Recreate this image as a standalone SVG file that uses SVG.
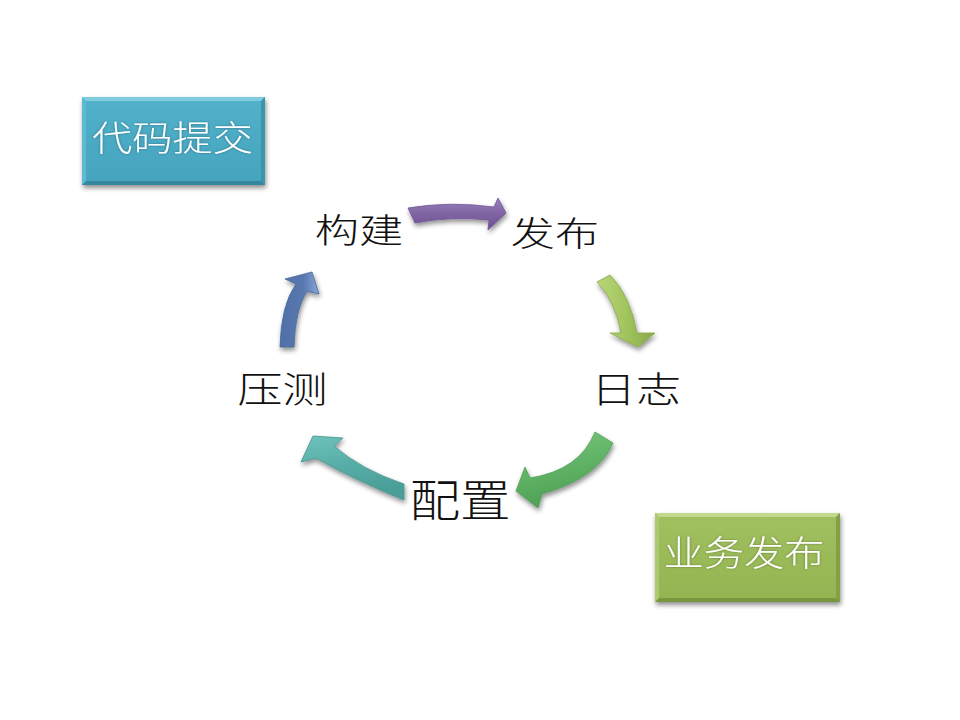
<svg xmlns="http://www.w3.org/2000/svg" width="960" height="720" viewBox="0 0 960 720">
<defs>
<style>
.lbl{font-family:"Noto Sans CJK SC","Noto Sans CJK JP",sans-serif;font-weight:300;fill:#111;text-anchor:middle}
.btx{font-family:"Noto Sans CJK SC","Noto Sans CJK JP",sans-serif;font-weight:300;fill:#ffffff;text-anchor:middle}
.arr{stroke-linejoin:round;stroke-width:0.8}
</style>
<filter id="sh" x="-20%" y="-20%" width="140%" height="150%">
<feGaussianBlur in="SourceAlpha" stdDeviation="2.5"/>
<feOffset dx="1" dy="3" result="b"/>
<feComponentTransfer><feFuncA type="linear" slope="0.45"/></feComponentTransfer>
<feMerge><feMergeNode/><feMergeNode in="SourceGraphic"/></feMerge>
</filter>
<filter id="glow" x="-10%" y="-30%" width="120%" height="160%">
<feGaussianBlur in="SourceAlpha" stdDeviation="1.2"/>
<feComponentTransfer><feFuncA type="linear" slope="0.35"/></feComponentTransfer>
<feMerge><feMergeNode/><feMergeNode in="SourceGraphic"/></feMerge>
</filter>
<linearGradient id="gBox1" x1="0" y1="0" x2="0" y2="1">
<stop offset="0" stop-color="#52b1cb"/><stop offset="1" stop-color="#45a3bd"/>
</linearGradient>
<linearGradient id="gBox2" x1="0" y1="0" x2="0" y2="1">
<stop offset="0" stop-color="#a1c160"/><stop offset="1" stop-color="#94b452"/>
</linearGradient>
<linearGradient id="gPur" x1="0" y1="0" x2="0" y2="1">
<stop offset="0" stop-color="#9a80bd"/><stop offset="0.5" stop-color="#8064a2"/><stop offset="1" stop-color="#6a5090"/>
</linearGradient>
<linearGradient id="gYel" x1="0" y1="0" x2="1" y2="0">
<stop offset="0" stop-color="#b8d779"/><stop offset="0.5" stop-color="#a2c45e"/><stop offset="1" stop-color="#87a846"/>
</linearGradient>
<linearGradient id="gGrn" x1="0" y1="0" x2="0.3" y2="1">
<stop offset="0" stop-color="#7cc77f"/><stop offset="0.5" stop-color="#62b567"/><stop offset="1" stop-color="#4e9f55"/>
</linearGradient>
<linearGradient id="gTeal" x1="0" y1="0" x2="0.3" y2="1">
<stop offset="0" stop-color="#6fc2bb"/><stop offset="0.5" stop-color="#58aea8"/><stop offset="1" stop-color="#4a9e98"/>
</linearGradient>
<linearGradient id="gBlue" x1="0" y1="0" x2="1" y2="0">
<stop offset="0" stop-color="#4f70a6"/><stop offset="0.6" stop-color="#5878b0"/><stop offset="1" stop-color="#8aa6d6"/>
</linearGradient>
</defs>
<rect width="960" height="720" fill="#ffffff"/>

<g id="node-code-commit">
<rect x="82" y="97" width="183" height="88" fill="url(#gBox1)" filter="url(#sh)"/>
<path d="M82,97 H265 L261,101 H86 Z" fill="#7fcbe0"/>
<path d="M265,97 V185 L261,181 V101 Z" fill="#3a95ad"/>
<path d="M82,185 H265 L261,181 H86 Z" fill="#34879e"/>
<path d="M82,97 V185 L86,181 V101 Z" fill="#5dbad3"/>
<text class="btx" filter="url(#glow)" transform="translate(172.5,151) scale(1.15,1)" font-size="35">代码提交</text>
</g>

<g id="node-business-release">
<rect x="655" y="513" width="185" height="89" fill="url(#gBox2)" filter="url(#sh)"/>
<path d="M655,513 H840 L836,517 H659 Z" fill="#c1da8c"/>
<path d="M840,513 V602 L836,598 V517 Z" fill="#83a045"/>
<path d="M655,602 H840 L836,598 H659 Z" fill="#7a963f"/>
<path d="M655,513 V602 L659,598 V517 Z" fill="#abc96e"/>
<text class="btx" filter="url(#glow)" transform="translate(744,566) scale(1.15,1)" font-size="35">业务发布</text>
</g>

<g id="node-build"><text class="lbl" transform="translate(359,243) scale(1.3,1)" font-size="34">构建</text></g>
<g id="node-publish"><text class="lbl" transform="translate(555,246) scale(1.3,1)" font-size="34">发布</text></g>
<g id="node-log"><text class="lbl" transform="translate(636,403) scale(1.25,1)" font-size="36">日志</text></g>
<g id="node-config"><text class="lbl" transform="translate(460,517) scale(1.15,1)" font-size="44">配置</text></g>
<g id="node-stress"><text class="lbl" transform="translate(282.5,403) scale(1.25,1)" font-size="36">压测</text></g>

<g id="connectors" filter="url(#sh)">
<path class="arr" d="M408,208 Q450,201 494,207 L498,198 L506,213 L488,230 L489,220 Q450,216 415,223 Z" fill="url(#gPur)" stroke="#6e5494"/>
<path class="arr" d="M597,282 Q615,300 621,333 L610,333 L638,347 L655,333 L637,333 Q630,295 610,275 Z" fill="url(#gYel)" stroke="#8aa84a"/>
<path class="arr" d="M595,432 Q580,470 530,478 L525,467 L516,491 L538,508 L542,494 Q598,478 613,443 Z" fill="url(#gGrn)" stroke="#519e57"/>
<path class="arr" d="M343,438 L313,436 L301,462 L316,458 Q355,480 404,500 L404,484 Q362,470 334,446 Z" fill="url(#gTeal)" stroke="#46958f"/>
<path class="arr" d="M280,347 Q281,305 296,284 L285,279 L312,272 L319,294 L307,291 Q295,310 294,347 Z" fill="url(#gBlue)" stroke="#46679b"/>
</g>
</svg>
